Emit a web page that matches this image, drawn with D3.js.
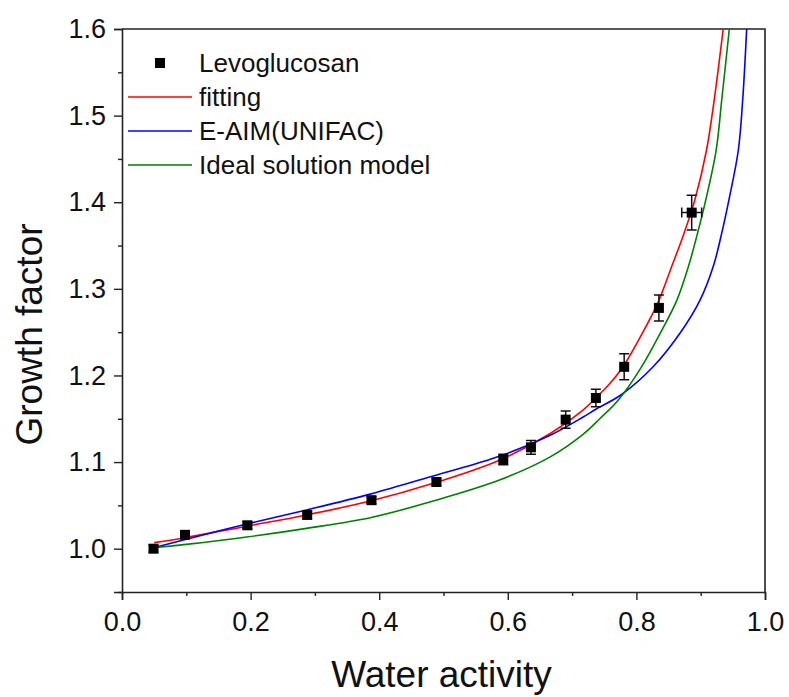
<!DOCTYPE html>
<html>
<head>
<meta charset="utf-8">
<script src="https://cdn.jsdelivr.net/npm/d3@7"></script>
<style>
  body { margin: 0; background: #fff; }
  svg { display: block; font-family: Arial, "Liberation Sans", sans-serif; }
</style>
</head>
<body>
<div id="chart"></div>
<script>
// measured points (water activity, growth factor, errors)
const aw = [0.049, 0.098, 0.195, 0.288, 0.388, 0.489, 0.593, 0.636, 0.690, 0.737, 0.781, 0.835, 0.886];
const gf = [1.000, 1.016, 1.027, 1.039, 1.056, 1.077, 1.103, 1.117, 1.149, 1.174, 1.210, 1.278, 1.388];
const gfErr = [0.004, 0.004, 0.004, 0.004, 0.004, 0.004, 0.006, 0.008, 0.010, 0.010, 0.015, 0.015, 0.020];
const awErr = [0, 0, 0, 0, 0, 0, 0, 0, 0, 0, 0, 0, 0.0155];

// model curves
const fitAw = [0.05, 0.1, 0.194, 0.287, 0.386, 0.484, 0.588, 0.666, 0.717, 0.737, 0.759, 0.78, 0.808, 0.834, 0.855, 0.874, 0.891, 0.909, 0.921, 0.935];
const fitGf = [1.007, 1.013, 1.026, 1.039, 1.055, 1.0755, 1.1025, 1.133, 1.160, 1.174, 1.191, 1.211, 1.247, 1.285, 1.326, 1.364, 1.403, 1.460, 1.518, 1.600];

const aimAw = [0.049, 0.1, 0.194, 0.287, 0.386, 0.484, 0.588, 0.666, 0.717, 0.737, 0.777, 0.826, 0.868, 0.899, 0.9196, 0.9326, 0.944, 0.9585, 0.9653, 0.9715];
const aimGf = [1.001, 1.011, 1.0285, 1.0447, 1.063, 1.084, 1.107, 1.131, 1.152, 1.161, 1.178, 1.210, 1.249, 1.287, 1.326, 1.364, 1.403, 1.460, 1.518, 1.600];

const idealAw = [0.049, 0.1, 0.194, 0.287, 0.386, 0.484, 0.588, 0.666, 0.717, 0.743, 0.772, 0.808, 0.837, 0.863, 0.881, 0.895, 0.908, 0.924, 0.9327, 0.9445];
const idealGf = [1.001, 1.005, 1.0135, 1.0235, 1.0358, 1.055, 1.0795, 1.106, 1.132, 1.150, 1.1717, 1.210, 1.2487, 1.287, 1.326, 1.364, 1.403, 1.460, 1.518, 1.600];

const xTicks = [0.0, 0.2, 0.4, 0.6, 0.8, 1.0];
const yTicks = [1.0, 1.1, 1.2, 1.3, 1.4, 1.5, 1.6];

const seriesNames = ["Levoglucosan", "fitting", "E-AIM(UNIFAC)", "Ideal solution model"];
const seriesColors = ["#000000", "#ff0000", "#0000ff", "#008000"];

const width = 789, height = 697;
const margin = { top: 29, right: 24, bottom: 105, left: 122 };

const svg = d3.select("#chart").append("svg")
  .attr("width", width)
  .attr("height", height);

const x = d3.scaleLinear().domain([0, 1]).range([margin.left, width - margin.right]);
const y = d3.scaleLinear().domain([0.95, 1.6]).range([height - margin.bottom, margin.top]);

svg.append("defs").append("clipPath").attr("id", "plot")
  .append("rect")
  .attr("x", margin.left).attr("y", margin.top)
  .attr("width", x(1) - x(0)).attr("height", y(0.95) - y(1.6));

// frame (top and right)
svg.append("path")
  .attr("d", `M${x(0)},${y(1.6)}H${x(1)}V${y(0.95)}`)
  .attr("fill", "none").attr("stroke", "#222").attr("stroke-width", 1.6);

// x axis: major + minor ticks
svg.append("g").attr("transform", `translate(0,${y(0.95)})`)
  .call(d3.axisBottom(x).tickValues(xTicks).tickFormat(d3.format(".1f")).tickSize(8).tickPadding(12));
svg.append("g").attr("transform", `translate(0,${y(0.95)})`)
  .call(d3.axisBottom(x).tickValues(d3.range(0.1, 1, 0.2)).tickFormat("").tickSize(4))
  .select(".domain").remove();

svg.append("g").attr("transform", `translate(${x(0)},0)`)
  .call(d3.axisLeft(y).tickValues(yTicks).tickFormat(d3.format(".1f")).tickSize(8).tickPadding(8));
svg.append("g").attr("transform", `translate(${x(0)},0)`)
  .call(d3.axisLeft(y).tickValues([0.95, 1.05, 1.15, 1.25, 1.35, 1.45, 1.55]).tickFormat("").tickSize(4))
  .select(".domain").remove();

svg.selectAll(".domain").attr("stroke", "#222").attr("stroke-width", 1.6);
svg.selectAll(".tick line").attr("stroke", "#222").attr("stroke-width", 1.4);
svg.selectAll(".tick text").attr("font-size", 27).attr("fill", "#111")
  .attr("font-family", "Arial, 'Liberation Sans', sans-serif");

// axis titles
svg.append("text")
  .attr("x", (x(0) + x(1)) / 2 - 2).attr("y", 687)
  .attr("text-anchor", "middle").attr("font-size", 37).attr("fill", "#111")
  .text("Water activity");
svg.append("text")
  .attr("transform", `translate(42,${(y(0.95) + y(1.6)) / 2 + 24}) rotate(-90)`)
  .attr("text-anchor", "middle").attr("font-size", 37).attr("fill", "#111")
  .text("Growth factor");

// model curves
const line = d3.line().x((d) => x(d[0])).y((d) => y(d[1])).curve(d3.curveCatmullRom.alpha(0.5));
const curves = [
  d3.zip(fitAw, fitGf),
  d3.zip(aimAw, aimGf),
  d3.zip(idealAw, idealGf),
];
svg.append("g").attr("clip-path", "url(#plot)")
  .selectAll("path")
  .data(curves)
  .join("path")
  .attr("d", line)
  .attr("fill", "none")
  .attr("stroke", (d, i) => seriesColors[i + 1])
  .attr("stroke-width", 1.6);

// data points with error bars
const pts = aw.map((a, i) => ({ a, g: gf[i], ey: gfErr[i], ex: awErr[i] }));
const cap = 5;
const pg = svg.append("g").attr("stroke", "#111").attr("stroke-width", 1.5).attr("fill", "none");
pts.forEach((p) => {
  const cx = x(p.a), cy = y(p.g);
  const y0 = y(p.g - p.ey), y1 = y(p.g + p.ey);
  pg.append("path").attr("d", `M${cx},${y0}V${y1}M${cx - cap},${y0}H${cx + cap}M${cx - cap},${y1}H${cx + cap}`);
  if (p.ex > 0) {
    const x0 = x(p.a - p.ex), x1 = x(p.a + p.ex);
    pg.append("path").attr("d", `M${x0},${cy}H${x1}M${x0},${cy - cap}V${cy + cap}M${x1},${cy - cap}V${cy + cap}`);
  }
});
svg.append("g").selectAll("rect")
  .data(pts)
  .join("rect")
  .attr("x", (d) => x(d.a) - 5)
  .attr("y", (d) => y(d.g) - 5)
  .attr("width", 10).attr("height", 10)
  .attr("fill", "#000");

// legend
const leg = svg.append("g");
seriesNames.forEach((name, i) => {
  const ry = 63 + i * 34;
  if (i === 0) {
    leg.append("rect").attr("x", 155).attr("y", ry - 5).attr("width", 10).attr("height", 10).attr("fill", "#000");
  } else {
    leg.append("line").attr("x1", 128).attr("x2", 192).attr("y1", ry).attr("y2", ry)
      .attr("stroke", seriesColors[i]).attr("stroke-width", 1.6);
  }
  leg.append("text").attr("x", 199).attr("y", ry + 9)
    .attr("font-size", 26).attr("fill", "#111").text(name);
});
</script>
</body>
</html>
